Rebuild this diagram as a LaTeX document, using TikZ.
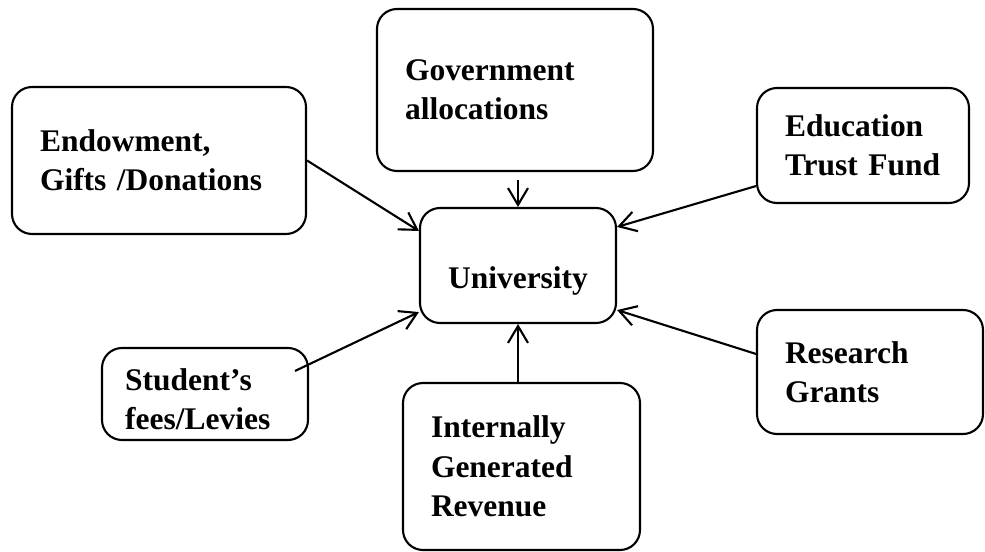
\documentclass[tikz,border=0pt]{standalone}
\usepackage{fontspec}
\setmainfont{Liberation Serif}
\usepackage{tikz}
\usetikzlibrary{arrows.meta, calc}
\definecolor{mydark}{RGB}{0,0,0}
\tikzset{
  srcbox/.style={rectangle,draw=mydark,rounded corners=0.5cm,line width=1.5pt,
    align=left,inner xsep=0.7cm,inner ysep=0.2cm,
    font=\fontsize{22.4pt}{28pt}\selectfont\bfseries},
  unibox/.style={srcbox,align=center},
  arrow/.style={-{Straight Barb[length=0.42cm,width=0.5cm]},line width=1.5pt,color=mydark}
}
\begin{document}
\begin{tikzpicture}
  \useasboundingbox (0,0) rectangle (24.625,13.8);

  % University in the middle
  \node[unibox, text width=3.5cm, text height=1.34cm, text depth=0.2cm,
    minimum height=2.875cm] (uni) at (12.95,7.1625) {University};

  % Sources of funds
  \node[srcbox, text width=5.5cm, minimum height=4.05cm] (gov) at (12.875,11.55) {Government\\allocations};
  \node[srcbox, text width=5.95cm, minimum height=3.675cm] (endow) at (3.975,9.7875) {Endowment,\\Gifts /Donations};
  \node[srcbox, text width=3.9cm, minimum height=2.875cm] (etf) at (21.575,10.1625) {Education\\Trust Fund};
  \node[srcbox, inner xsep=0.58cm, inner ysep=0pt, text width=3.99cm, text height=0.82cm,
    minimum height=2.3cm] (fees) at (5.125,3.95) {Student’s\\fees/Levies};
  \node[srcbox, text width=4.525cm, minimum height=4.175cm] (igr) at (13.0375,2.1375) {Internally\\Generated\\Revenue};
  \node[srcbox, text width=4.25cm, minimum height=3.1cm] (grants) at (21.75,4.5) {Research\\Grants};

  % Flows into the university
  \draw[arrow] ($(gov.south -| uni.north)+(0,-0.2)$) -- (uni.north);
  \draw[arrow] (endow.east) -- ([yshift=-0.6cm]uni.north west);
  \draw[arrow] ([yshift=0.45cm]etf.south west) -- ([yshift=-0.5cm]uni.north east);
  \draw[arrow] ([xshift=-0.35cm,yshift=-0.6cm]fees.north east) -- ([yshift=0.3cm]uni.south west);
  \draw[arrow] (igr.north -| uni.south) -- (uni.south);
  \draw[arrow] ([yshift=-1.125cm]grants.north west) -- ([yshift=0.35cm]uni.south east);
\end{tikzpicture}
\end{document}
